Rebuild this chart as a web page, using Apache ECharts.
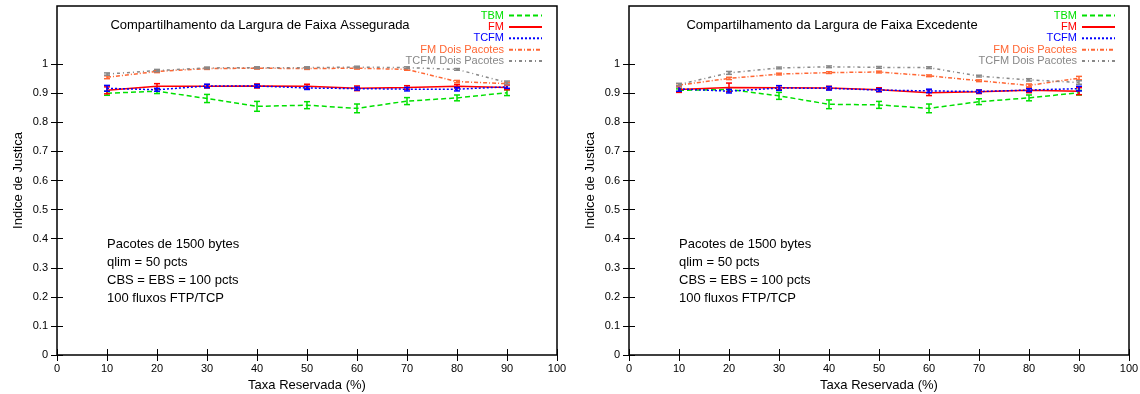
<!DOCTYPE html>
<html>
<head>
<meta charset="utf-8">
<script src="https://cdn.jsdelivr.net/npm/echarts@6/dist/echarts.min.js"></script>
<style>
  html, body { margin: 0; padding: 0; background: #fff; }
  #chart { width: 1140px; height: 394px; }
</style>
</head>
<body>
<div id="chart"></div>
<script>
// Reserved rate (%) on the x axis
const reservedRate = [10, 20, 30, 40, 50, 60, 70, 80, 90];
const xTicks = [0, 10, 20, 30, 40, 50, 60, 70, 80, 90, 100];
const yTicks = [0, 0.1, 0.2, 0.3, 0.4, 0.5, 0.6, 0.7, 0.8, 0.9, 1];

const seriesNames = ['TBM', 'FM', 'TCFM', 'FM Dois Pacotes', 'TCFM Dois Pacotes'];

// Fairness index, assured bandwidth sharing
const assuredTBM      = [0.900, 0.907, 0.882, 0.855, 0.859, 0.848, 0.873, 0.884, 0.902];
const assuredFM       = [0.910, 0.924, 0.924, 0.925, 0.924, 0.917, 0.920, 0.924, 0.920];
const assuredTCFM     = [0.917, 0.912, 0.925, 0.925, 0.918, 0.916, 0.914, 0.914, 0.922];
const assuredFMDP     = [0.955, 0.975, 0.985, 0.986, 0.985, 0.986, 0.982, 0.940, 0.933];
const assuredTCFMDP   = [0.966, 0.978, 0.987, 0.988, 0.988, 0.990, 0.988, 0.982, 0.937];
// Half-width of the confidence intervals
const assuredErrTBM    = [0.007, 0.008, 0.014, 0.017, 0.012, 0.015, 0.012, 0.010, 0.010];
const assuredErrFM     = [0.012, 0.009, 0.006, 0.007, 0.007, 0.008, 0.006, 0.006, 0.008];
const assuredErrTCFM   = [0.010, 0.005, 0.006, 0.005, 0.005, 0.005, 0.006, 0.006, 0.005];
const assuredErrFMDP   = [0.005, 0.004, 0.003, 0.003, 0.003, 0.003, 0.003, 0.004, 0.005];
const assuredErrTCFMDP = [0.004, 0.004, 0.003, 0.003, 0.003, 0.003, 0.003, 0.003, 0.005];

// Fairness index, excess bandwidth sharing
const excessTBM      = [0.910, 0.913, 0.891, 0.862, 0.860, 0.848, 0.871, 0.884, 0.902];
const excessFM       = [0.913, 0.920, 0.919, 0.918, 0.912, 0.902, 0.905, 0.910, 0.907];
const excessTCFM     = [0.915, 0.907, 0.918, 0.917, 0.911, 0.908, 0.906, 0.911, 0.916];
const excessFMDP     = [0.928, 0.951, 0.966, 0.971, 0.973, 0.960, 0.943, 0.927, 0.952];
const excessTCFMDP   = [0.930, 0.970, 0.987, 0.991, 0.989, 0.988, 0.959, 0.946, 0.937];
const excessErrTBM    = [0.005, 0.006, 0.012, 0.015, 0.012, 0.015, 0.010, 0.010, 0.008];
const excessErrFM     = [0.010, 0.015, 0.007, 0.006, 0.007, 0.010, 0.006, 0.008, 0.012];
const excessErrTCFM   = [0.008, 0.006, 0.008, 0.006, 0.005, 0.006, 0.005, 0.005, 0.008];
const excessErrFMDP   = [0.005, 0.004, 0.003, 0.003, 0.003, 0.003, 0.003, 0.005, 0.006];
const excessErrTCFMDP = [0.004, 0.005, 0.003, 0.003, 0.003, 0.003, 0.003, 0.004, 0.006];

const panelTitles = ['Compartilhamento da Largura de Faixa Assegurada',
                     'Compartilhamento da Largura de Faixa Excedente'];
const noteText = 'Pacotes de 1500 bytes\nqlim = 50 pcts\nCBS = EBS = 100 pcts\n100 fluxos FTP/TCP';
const xName = 'Taxa Reservada (%)';
const yName = 'Indice de Justica';

const FONT = '"Liberation Sans", Arial, Helvetica, sans-serif';
const styles = [
  { color: '#00e000', dash: [5, 3] },
  { color: '#ff0000', dash: 'solid' },
  { color: '#0000ff', dash: [2, 2] },
  { color: '#ff6633', dash: [4, 2, 1, 2] },
  { color: '#888888', dash: [3, 3, 1, 3] }
];

const panels = [
  { values: [assuredTBM, assuredFM, assuredTCFM, assuredFMDP, assuredTCFMDP],
    errors: [assuredErrTBM, assuredErrFM, assuredErrTCFM, assuredErrFMDP, assuredErrTCFMDP] },
  { values: [excessTBM, excessFM, excessTCFM, excessFMDP, excessTCFMDP],
    errors: [excessErrTBM, excessErrFM, excessErrTCFM, excessErrFMDP, excessErrTCFMDP] }
];

const gridLefts = [57, 629];
const PLOT_W = 500, PLOT_TOP = 6, PLOT_H = 349;

const grids = [], xAxes = [], yAxes = [], series = [], legends = [], titles = [], graphics = [];

const fmtY = v => String(+(+v).toFixed(1));

panels.forEach((panel, p) => {
  grids.push({
    left: gridLefts[p], top: PLOT_TOP, width: PLOT_W, height: PLOT_H,
    outerBoundsMode: 'none', containLabel: false,
    show: true, borderColor: '#000', borderWidth: 1.5, backgroundColor: 'transparent'
  });
  const tick = { show: true, inside: true, length: 6, lineStyle: { color: '#000', width: 1 } };
  // bottom x axis (labelled) and mirrored top x axis (ticks only)
  xAxes.push({
    type: 'value', gridIndex: p, min: 0, max: 100, interval: 10, position: 'bottom',
    axisLine: { show: false }, splitLine: { show: false },
    axisTick: tick,
    axisLabel: { color: '#000', fontSize: 11, fontFamily: FONT, margin: 8 },
    name: xName, nameLocation: 'middle', nameGap: 22,
    nameTextStyle: { color: '#000', fontSize: 13, fontFamily: FONT }
  });
  xAxes.push({
    type: 'value', gridIndex: p, min: 0, max: 100, interval: 10, position: 'top',
    axisLine: { show: false }, splitLine: { show: false },
    axisTick: tick, axisLabel: { show: false }
  });
  yAxes.push({
    type: 'value', gridIndex: p, min: 0, max: 1.2, position: 'left',
    axisLine: { show: false }, splitLine: { show: false },
    axisTick: Object.assign({ customValues: yTicks }, tick),
    axisLabel: { customValues: yTicks, formatter: fmtY, color: '#000', fontSize: 11, fontFamily: FONT, margin: 9 },
    name: yName, nameLocation: 'middle', nameGap: 32, nameRotate: 90,
    nameTextStyle: { color: '#000', fontSize: 13, fontFamily: FONT }
  });
  yAxes.push({
    type: 'value', gridIndex: p, min: 0, max: 1.2, position: 'right',
    axisLine: { show: false }, splitLine: { show: false },
    axisTick: Object.assign({ customValues: yTicks }, tick),
    axisLabel: { show: false }
  });

  seriesNames.forEach((name, s) => {
    const st = styles[s];
    series.push({
      name, type: 'line', xAxisIndex: 2 * p, yAxisIndex: 2 * p,
      data: reservedRate.map((x, i) => [x, panel.values[s][i]]),
      symbol: 'none', z: 3 + s,
      lineStyle: { color: st.color, width: 1.5, type: st.dash },
      itemStyle: { color: st.color },
      emphasis: { disabled: true }, animation: false
    });
  });
  // confidence-interval bars with caps
  seriesNames.forEach((name, s) => {
    const st = styles[s];
    series.push({
      name: name + ' IC', type: 'custom', xAxisIndex: 2 * p, yAxisIndex: 2 * p,
      data: reservedRate.map((x, i) => [x, panel.values[s][i], panel.errors[s][i]]),
      encode: { x: 0, y: 1 }, z: 3 + s, animation: false,
      itemStyle: { color: st.color },
      renderItem: (params, api) => {
        const x = api.value(0), y = api.value(1), e = api.value(2);
        const hi = api.coord([x, y + e]);
        const lo = api.coord([x, y - e]);
        const cap = 3;
        const style = { stroke: st.color, lineWidth: 1.5, fill: null };
        return {
          type: 'group',
          children: [
            { type: 'line', shape: { x1: hi[0], y1: hi[1], x2: lo[0], y2: lo[1] }, style },
            { type: 'line', shape: { x1: hi[0] - cap, y1: hi[1], x2: hi[0] + cap, y2: hi[1] }, style },
            { type: 'line', shape: { x1: lo[0] - cap, y1: lo[1], x2: lo[0] + cap, y2: lo[1] }, style }
          ]
        };
      }
    });
  });

  legends.push({
    orient: 'vertical', align: 'right',
    right: p === 0 ? 597 : 24, top: 10,
    itemWidth: 33, itemHeight: 11, itemGap: 0.4, padding: 0,
    selectedMode: false,
    itemStyle: { opacity: 0 },
    data: seriesNames.map((name, s) => ({
      name,
      textStyle: { color: styles[s].color }
    })),
    textStyle: { fontSize: 11, fontFamily: FONT, lineHeight: 11 }
  });

  titles.push({
    text: panelTitles[p],
    left: gridLefts[p] + 203, top: 19, textAlign: 'center', padding: 0,
    textStyle: { fontSize: 13, fontWeight: 'normal', color: '#000', fontFamily: FONT }
  });

  graphics.push({
    type: 'text', left: gridLefts[p] + 50, top: 235,
    style: { text: noteText, fontSize: 13, fontFamily: FONT, fill: '#000', lineHeight: 18 }
  });
});

const chart = echarts.init(document.getElementById('chart'), null, { renderer: 'canvas' });
chart.setOption({
  backgroundColor: '#fff',
  animation: false,
  title: titles,
  legend: legends,
  grid: grids,
  xAxis: xAxes,
  yAxis: yAxes,
  series,
  graphic: graphics
});
</script>
</body>
</html>
